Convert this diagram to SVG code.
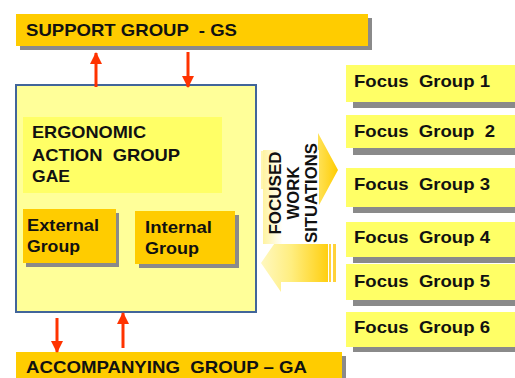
<svg xmlns="http://www.w3.org/2000/svg" width="515" height="378" viewBox="0 0 515 378">
  <style>
    text { font-family: "Liberation Sans", Arial, sans-serif; font-weight: bold; fill: #111; white-space: pre; }
    .bar { fill: #FFCC00; }
    .shadow { fill: #8A8A8A; }
    .sub { fill: #FFCC00; }
    .focus { fill: #FFFF66; }
    .big { font-size: 17px; }
    .mid { font-size: 17px; }
    .fg { font-size: 17px; }
    .vt { font-size: 17px; }
    .link { stroke: #FF3300; stroke-width: 3; fill: none; }
  </style>
  <defs>
    <marker id="head" markerUnits="userSpaceOnUse" markerWidth="12" markerHeight="12" viewBox="0 0 12 12" refX="11" refY="6" orient="auto">
      <path d="M0,0 L12,6 L0,12 Z" fill="#FF3300"/>
    </marker>
    <linearGradient id="gradOut" x1="0" y1="0" x2="1" y2="0">
      <stop offset="0" stop-color="#FFF6B0"/>
      <stop offset="0.6" stop-color="#FFEE88"/>
      <stop offset="1" stop-color="#FFCC00"/>
    </linearGradient>
    <linearGradient id="gradIn" x1="0" y1="0" x2="1" y2="0">
      <stop offset="0" stop-color="#FFF8C0"/>
      <stop offset="0.45" stop-color="#FFEE80"/>
      <stop offset="1" stop-color="#FFCF10"/>
    </linearGradient>
    <linearGradient id="gradLabel" x1="0" y1="0" x2="1" y2="0">
      <stop offset="0" stop-color="#FFF3A0"/>
      <stop offset="0.35" stop-color="#FFFFFF"/>
      <stop offset="1" stop-color="#FFFFFF"/>
    </linearGradient>
  </defs>

  <!-- Support group bar -->
  <g id="support-group">
    <rect class="shadow" x="20" y="18" width="352" height="32"/>
    <rect class="bar" x="16" y="14" width="352" height="32"/>
    <text class="big" x="26" y="36" textLength="211" lengthAdjust="spacingAndGlyphs">SUPPORT GROUP  - GS</text>
  </g>

  <!-- Ergonomic action group container -->
  <g id="action-group">
    <rect x="16" y="85" width="240" height="227" fill="#FFFF99" stroke="#41659A" stroke-width="2"/>
    <rect x="23" y="117" width="199" height="76" fill="#FFFF66"/>
    <text class="mid" x="32" y="138" textLength="114" lengthAdjust="spacingAndGlyphs">ERGONOMIC</text>
    <text class="mid" x="32" y="161" textLength="148" lengthAdjust="spacingAndGlyphs">ACTION  GROUP</text>
    <text class="mid" x="32" y="182" textLength="38" lengthAdjust="spacingAndGlyphs">GAE</text>
  </g>

  <g id="external-group">
    <rect class="shadow" x="26" y="213" width="93" height="54"/>
    <rect class="sub" x="23" y="209" width="93" height="54"/>
    <text class="mid" x="27" y="231" textLength="72" lengthAdjust="spacingAndGlyphs">External</text>
    <text class="mid" x="27" y="252" textLength="53" lengthAdjust="spacingAndGlyphs">Group</text>
  </g>

  <g id="internal-group">
    <rect class="shadow" x="139" y="215" width="100" height="53"/>
    <rect class="sub" x="135" y="211" width="100" height="53"/>
    <text class="mid" x="145" y="233" textLength="67" lengthAdjust="spacingAndGlyphs">Internal</text>
    <text class="mid" x="145" y="254" textLength="54" lengthAdjust="spacingAndGlyphs">Group</text>
  </g>

  <!-- Accompanying group bar -->
  <g id="accompanying-group">
    <rect class="shadow" x="20" y="356" width="326" height="30"/>
    <rect class="bar" x="16" y="352" width="326" height="30"/>
    <text class="big" x="26" y="373" textLength="281" lengthAdjust="spacingAndGlyphs">ACCOMPANYING  GROUP – GA</text>
  </g>

  <!-- Focused work situations: two-way block arrows -->
  <g id="work-situations">
    <path d="M261,151 L318,151 L318,133 L338,170 L318,207 L318,189 L261,189 Z" fill="url(#gradOut)"/>
    <path d="M261,263 L281,234 L281,244 L328,244 L328,282 L281,282 L281,292 Z" fill="url(#gradIn)"/>
    <rect x="329" y="244" width="2" height="38" fill="#FFD23A"/>
    <rect x="333" y="244" width="3" height="38" fill="#FFD23A"/>
    <rect x="263" y="150" width="56" height="94" fill="url(#gradLabel)"/>
    <text class="vt" transform="translate(281,193) rotate(-90)" text-anchor="middle" textLength="83" lengthAdjust="spacingAndGlyphs">FOCUSED</text>
    <text class="vt" transform="translate(299,193) rotate(-90)" text-anchor="middle" textLength="53" lengthAdjust="spacingAndGlyphs">WORK</text>
    <text class="vt" transform="translate(317,193) rotate(-90)" text-anchor="middle" textLength="100" lengthAdjust="spacingAndGlyphs">SITUATIONS</text>
  </g>

  <!-- Focus groups -->
  <g id="focus-group-1">
    <rect class="shadow" x="353" y="70" width="170" height="38"/>
    <rect class="focus" x="346" y="65" width="175" height="37"/>
    <text class="fg" x="354" y="87" textLength="136" lengthAdjust="spacingAndGlyphs">Focus  Group 1</text>
  </g>
  <g id="focus-group-2">
    <rect class="shadow" x="353" y="120" width="170" height="35"/>
    <rect class="focus" x="346" y="115" width="175" height="33"/>
    <text class="fg" x="354" y="137" textLength="141" lengthAdjust="spacingAndGlyphs">Focus  Group  2</text>
  </g>
  <g id="focus-group-3">
    <rect class="shadow" x="353" y="174" width="170" height="39"/>
    <rect class="focus" x="346" y="168" width="175" height="39"/>
    <text class="fg" x="354" y="190" textLength="136" lengthAdjust="spacingAndGlyphs">Focus  Group 3</text>
  </g>
  <g id="focus-group-4">
    <rect class="shadow" x="353" y="228" width="170" height="35"/>
    <rect class="focus" x="346" y="222" width="175" height="35"/>
    <text class="fg" x="354" y="243" textLength="136" lengthAdjust="spacingAndGlyphs">Focus  Group 4</text>
  </g>
  <g id="focus-group-5">
    <rect class="shadow" x="353" y="270" width="170" height="36"/>
    <rect class="focus" x="346" y="264" width="175" height="36"/>
    <text class="fg" x="354" y="287" textLength="136" lengthAdjust="spacingAndGlyphs">Focus  Group 5</text>
  </g>
  <g id="focus-group-6">
    <rect class="shadow" x="353" y="317" width="170" height="35"/>
    <rect class="focus" x="346" y="312" width="175" height="35"/>
    <text class="fg" x="354" y="333" textLength="136" lengthAdjust="spacingAndGlyphs">Focus  Group 6</text>
  </g>

  <!-- Connectors between the action group and the two bars -->
  <g id="connectors">
    <line class="link" x1="96" y1="87" x2="96" y2="53" marker-end="url(#head)"/>
    <line class="link" x1="188" y1="52" x2="188" y2="87" marker-end="url(#head)"/>
    <line class="link" x1="57" y1="318" x2="57" y2="352" marker-end="url(#head)"/>
    <line class="link" x1="123" y1="348" x2="123" y2="313" marker-end="url(#head)"/>
  </g>
</svg>
